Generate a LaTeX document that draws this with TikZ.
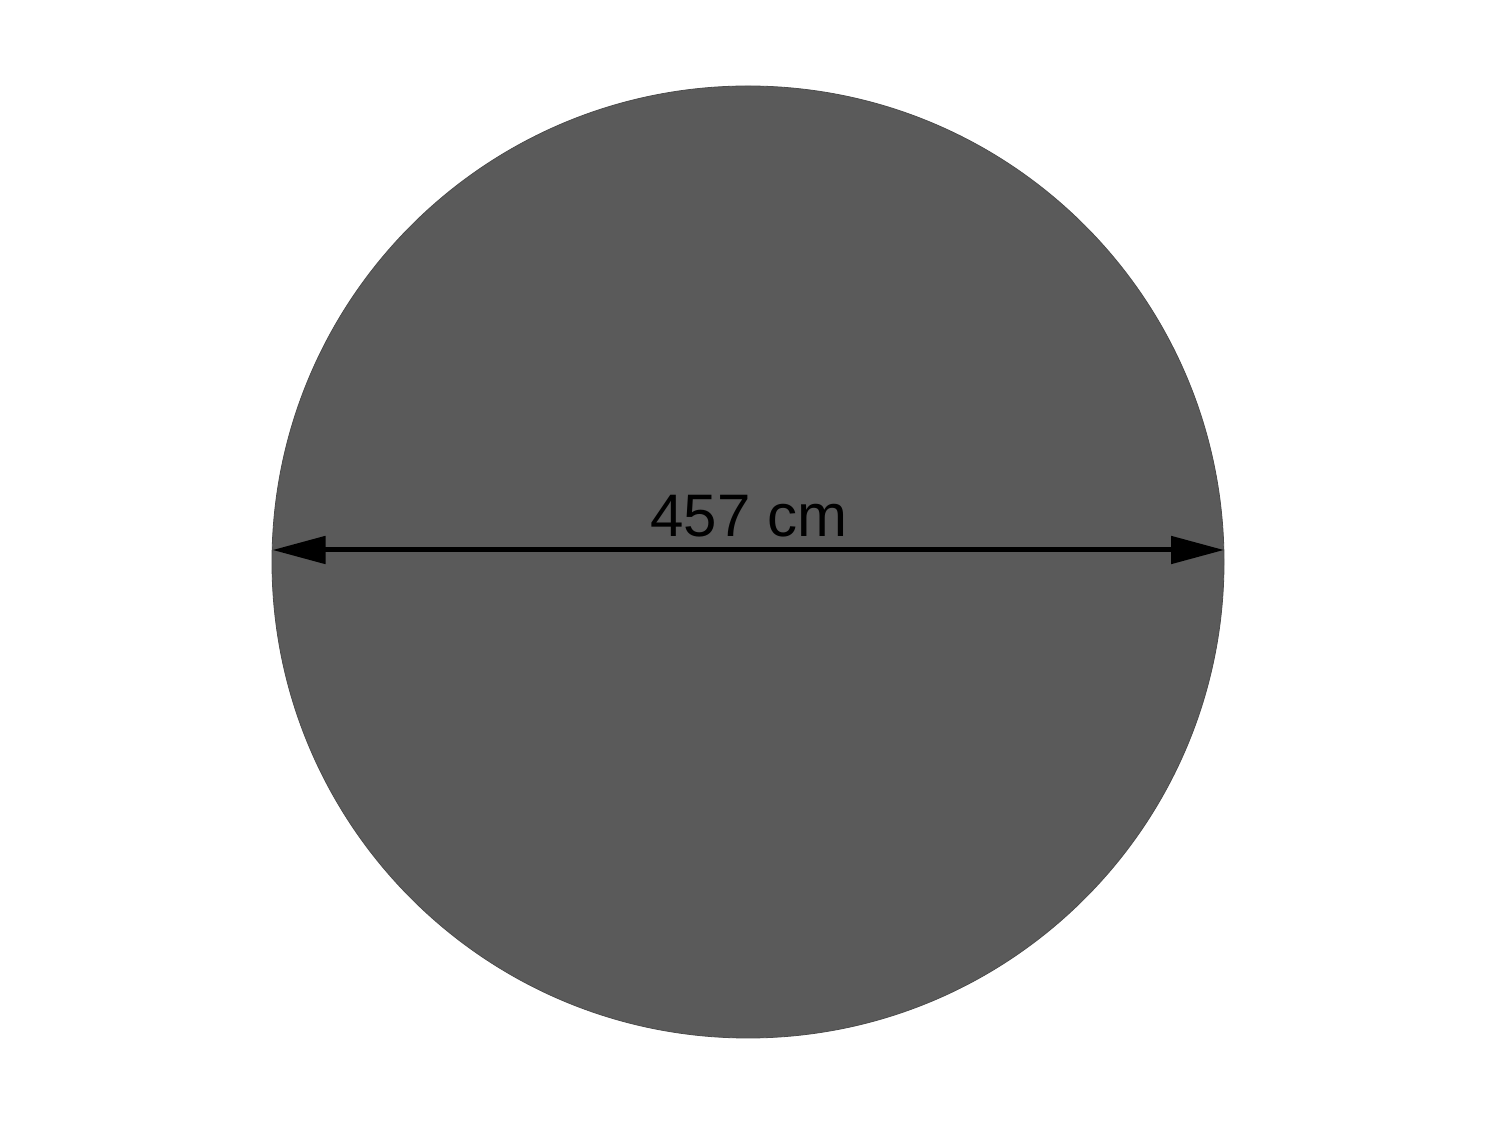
\documentclass[tikz,border=0pt]{standalone}
\usepackage{fontspec}
\setmainfont{Liberation Sans}
\usetikzlibrary{arrows.meta}
\definecolor{disc}{HTML}{5A5A5A}
\begin{document}
\begin{tikzpicture}[x=1pt,y=1pt,
  dimline/.style={line width=5pt, {Triangle[length=53pt,width=27pt]}-{Triangle[length=53pt,width=27pt]}}]
\useasboundingbox (0,0) rectangle (1500,1125);
\fill[white] (0,0) rectangle (1500,1125);
\node[circle, fill=disc, draw=black!70, line width=0.8pt, minimum size=952pt, inner sep=0pt] (c) at (748,563) {};
\coordinate (l) at (272.5,575);
\coordinate (r) at (1224,575);
\draw[dimline] (l) -- (r);
\node[font=\fontsize{60}{60}\selectfont, anchor=base, inner sep=0pt] (t) at (749,588) {457 cm};
\end{tikzpicture}
\end{document}
